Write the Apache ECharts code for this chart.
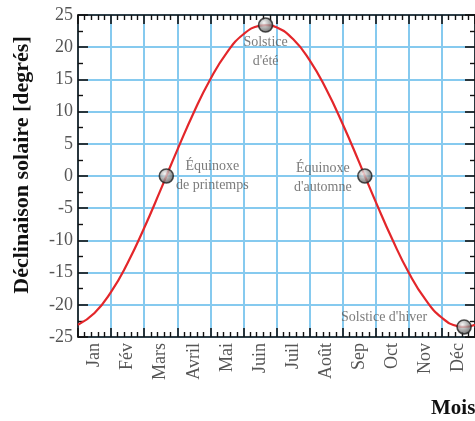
<!DOCTYPE html>
<html>
<head>
<meta charset="utf-8">
<script src="https://cdn.jsdelivr.net/npm/echarts@6/dist/echarts.min.js"></script>
<style>
html,body{margin:0;padding:0;background:#fff;}
#chart{width:475px;height:421px;}
</style>
</head>
<body>
<div id="chart"></div>
<script>
// Month tick labels (categories)
const months = ['Jan','Fév','Mars','Avril','Mai','Juin','Juil','Août','Sep','Oct','Nov','Déc'];
// Curve: position in months (0 = 1 Jan, 12 = 31 Dec) and solar declination (degrees)
const curveMonth = [0,0.5,1,1.5,2,2.5,2.67,3,3.5,4,4.5,5,5.5,5.67,6,6.5,7,7.5,8,8.5,8.67,9,9.5,10,10.5,11,11.5,11.67,12];
const curveDecl  = [-23.09,-21.27,-18.0,-13.5,-8.08,-2.12,0,4.02,9.87,15.03,19.17,22.01,23.35,23.44,23.09,21.27,18.0,13.5,8.08,2.12,0,-4.01,-9.83,-15.03,-19.17,-22.01,-23.35,-23.44,-23.09];
// Remarkable points
const eventNames = ['Équinoxe\nde printemps','Solstice\nd\'été','Équinoxe\nd\'automne','Solstice d\'hiver'];
const eventMonth = [2.67,5.67,8.67,11.67];
const eventDecl  = [0,23.44,0,-23.44];

const serif = '"Liberation Serif", "DejaVu Serif", serif';
const gridBlue = '#86caef';
const labelOffsets = [[46,0],[0,27],[-42,2],[-80,-10]];

const chart = echarts.init(document.getElementById('chart'), null, {renderer:'canvas'});

const valueXAxisBase = {
  type:'value', min:0, max:12, interval:1, gridIndex:0,
  axisLine:{show:true, onZero:false, lineStyle:{color:'#111', width:1.6}},
  axisTick:{show:true, inside:true, length:9, lineStyle:{color:'#111', width:1.6}},
  minorTick:{show:true, splitNumber:5, length:5, lineStyle:{color:'#111', width:1.4}},
  axisLabel:{show:false}
};
const valueYAxisBase = {
  type:'value', min:-25, max:25, interval:5, gridIndex:0,
  axisLine:{show:true, onZero:false, lineStyle:{color:'#111', width:1.6}},
  axisTick:{show:true, inside:true, length:10, lineStyle:{color:'#111', width:1.6}},
  minorTick:{show:true, splitNumber:2, length:5, lineStyle:{color:'#111', width:1.4}}
};

const option = {
  backgroundColor:'#fff',
  animation:false,
  grid:{left:78, top:15, width:402, height:322, containLabel:false},
  xAxis:[
    Object.assign({}, valueXAxisBase, {
      position:'bottom',
      splitLine:{show:true, lineStyle:{color:gridBlue, width:2}}
    }),
    {
      type:'category', data:months, position:'bottom', gridIndex:0, boundaryGap:true,
      axisLine:{show:false, onZero:false}, axisTick:{show:false}, splitLine:{show:false},
      axisLabel:{show:true, rotate:90, margin:6, color:'#555', fontFamily:serif, fontSize:18, interval:0}
    },
    Object.assign({}, valueXAxisBase, {
      position:'top',
      splitLine:{show:false}
    })
  ],
  yAxis:[
    Object.assign({}, valueYAxisBase, {
      position:'left',
      axisLabel:{show:true, margin:5, color:'#555', fontFamily:serif, fontSize:18},
      splitLine:{show:true, lineStyle:{color:gridBlue, width:2}}
    }),
    Object.assign({}, valueYAxisBase, {
      position:'right',
      axisLabel:{show:false},
      splitLine:{show:false}
    })
  ],
  series:[
    {
      type:'line', xAxisIndex:0, yAxisIndex:0,
      data: curveMonth.map((m,i)=>[m, curveDecl[i]]),
      smooth:true, showSymbol:false, symbol:'none',
      lineStyle:{color:'#e3262a', width:2.2},
      z:3
    },
    {
      type:'scatter', xAxisIndex:0, yAxisIndex:0,
      symbolSize:14,
      itemStyle:{
        color:new echarts.graphic.RadialGradient(0.4,0.35,0.65,[
          {offset:0,color:'#f2f2f2'},{offset:0.45,color:'#a8a8a8'},{offset:1,color:'#505050'}
        ]),
        borderColor:'#222', borderWidth:1.6
      },
      data: eventMonth.map((m,i)=>({
        value:[m, eventDecl[i]],
        label:{
          show:true, position:'inside', offset:labelOffsets[i],
          formatter:eventNames[i], color:'#5a5a5a', fontFamily:serif, fontSize:14,
          lineHeight:19, align:'center'
        }
      })),
      z:5
    }
  ],
  graphic:[
    {
      type:'text', x:22, y:165, rotation:Math.PI/2,
      style:{text:'Déclinaison solaire [degrés]', fill:'#111', font:'bold 22px '+serif,
             textAlign:'center', textVerticalAlign:'middle'}
    },
    {
      type:'text', x:431, y:409,
      style:{text:'Mois', fill:'#111', font:'bold 21px '+serif, textAlign:'left', textVerticalAlign:'middle'}
    }
  ]
};
chart.setOption(option);
</script>
</body>
</html>
